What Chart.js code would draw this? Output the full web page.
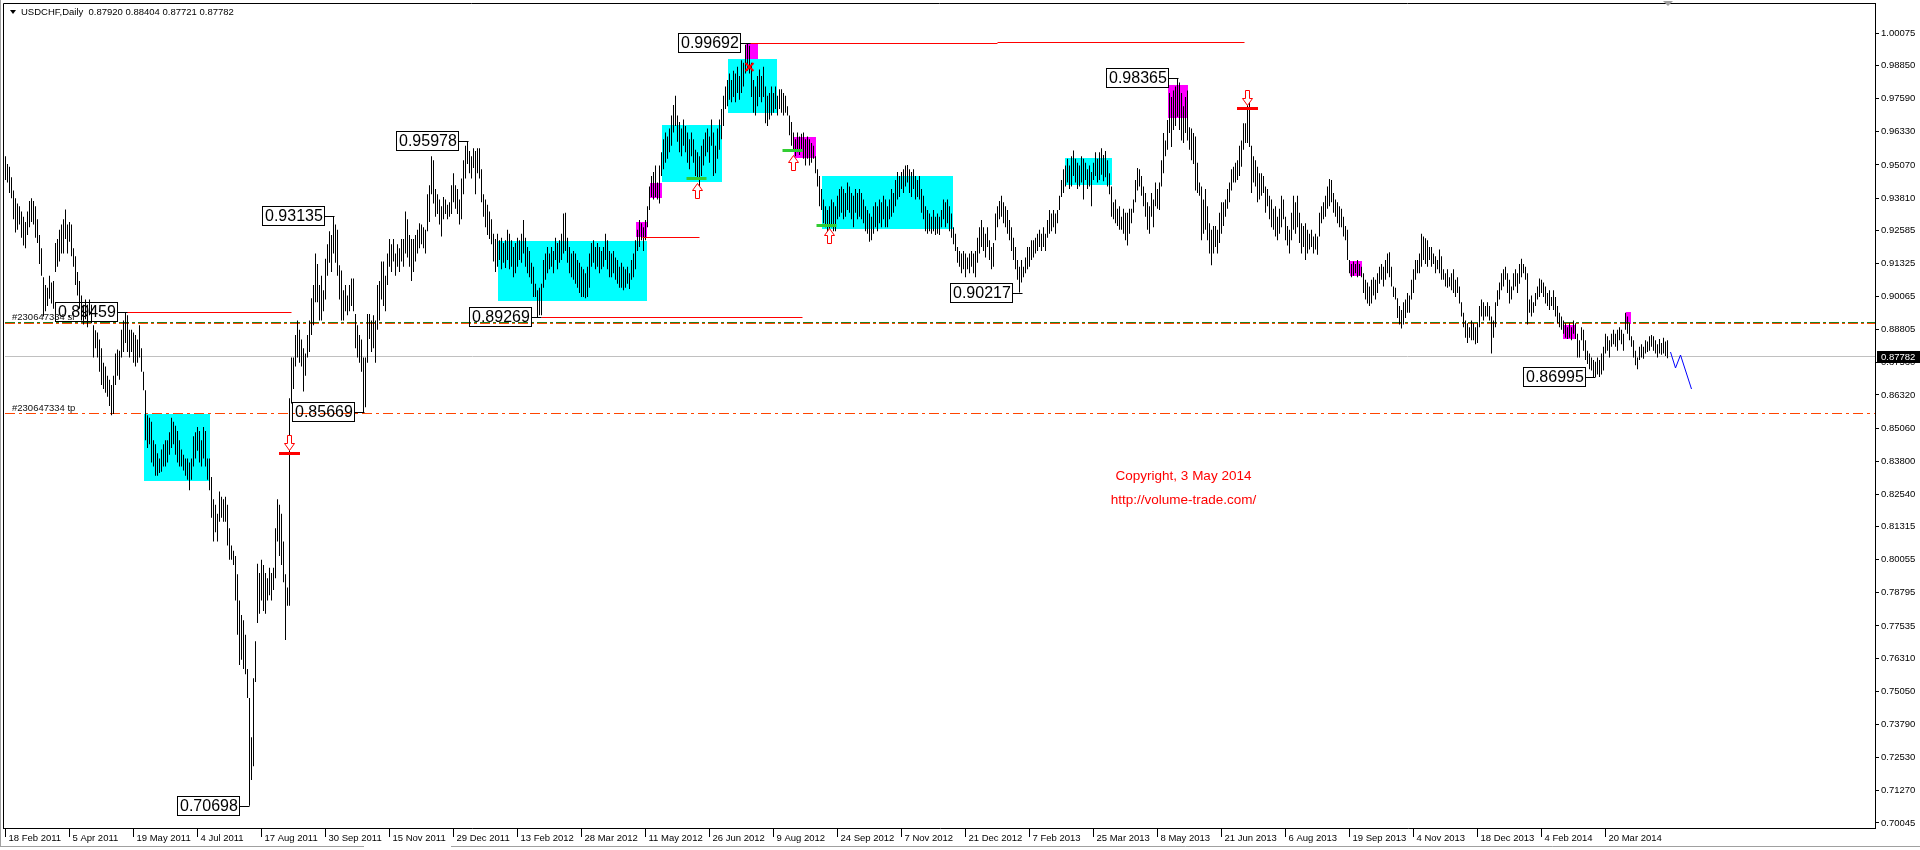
<!DOCTYPE html>
<html><head><meta charset="utf-8">
<script src="https://cdn.jsdelivr.net/npm/chart.js@4.4.1/dist/chart.umd.min.js"></script>
<style>html,body{margin:0;padding:0;background:#fff;overflow:hidden}canvas{display:block}</style>
</head><body>
<canvas id="c" width="1920" height="850"></canvas>
<script>
// ---------- DATA (daily high / low, in 1/10000 CHF) ----------
const symbolTitle = 'USDCHF,Daily';
const lastOHLC = ['0.87920', '0.88404', '0.87721', '0.87782'];
const lastClose = 0.87782;

const dateLabels = ['18 Feb 2011','5 Apr 2011','19 May 2011','4 Jul 2011','17 Aug 2011','30 Sep 2011','15 Nov 2011','29 Dec 2011','13 Feb 2012','28 Mar 2012','11 May 2012','26 Jun 2012','9 Aug 2012','24 Sep 2012','7 Nov 2012','21 Dec 2012','7 Feb 2013','25 Mar 2013','8 May 2013','21 Jun 2013','6 Aug 2013','19 Sep 2013','4 Nov 2013','18 Dec 2013','4 Feb 2014','20 Mar 2014'];
const barsPerDateLabel = 32;

const yTickValues = [1.00075,0.98850,0.97590,0.96330,0.95070,0.93810,0.92585,0.91325,0.90065,0.88805,0.87560,0.86320,0.85060,0.83800,0.82540,0.81315,0.80055,0.78795,0.77535,0.76310,0.75050,0.73790,0.72530,0.71270,0.70045];

const highs2011 = [
9540,9510,9500,9460,9410,9380,9360,9350,9330,9310,
9290,9330,9370,9380,9370,9350,9300,9240,9190,9080,
9050,9040,9085,9060,9065,9210,9225,9260,9280,9300,
9337,9280,9290,9280,9190,9160,9100,9065,9010,8975,
8995,8975,8995,8975,8897,8878,8870,8843,8810,8755,
8740,8705,8690,8670,8705,8790,8805,8800,8880,8915,
8946,8935,8880,8880,8870,8860,8843,8897,8810,8720,
8650,8555,8545,8530,8460,8445,8410,8390,8425,8445,
8460,8460,8490,8545,8530,8515,8495,8460,8425,8405,
8390,8390,8375,8390,8475,8490,8510,8495,8460,8510,
8495,8390,8390,8320,8235,8215,8180,8265,8245,8235,
8245,8215,8125,8060,8040,8020,7950,7850,7795,7775,
7720,7590,7480,7330,7555,7695,7990,7955,8005,7985,
7955,7935,7975,7955,7975,8125,8235,8215,8180,8075,
7950,7900,8620,8775,8775,8860,8915,8880,8843,8810,
8790,8860,8915,9000,9050,9170,9130,9050,9085,9030,
9150,9205,9255,9240,9313,9280,9260,9125,9105,9030,
9050,9010,9050,9075,9075,8940,8897,8860,8843,8775,
8775,8940,8940,8915,8935,8915,9050,9065,9140,9140,
9085,9170,9225,9205,9225,9170,9205,9190,9225,9225,
9330,9300,9240,9225,9225,9240,9260,9285,9280,9270,
9260,9395,9430,9540,9525,9415,9395,9375,9350,9385,
9375,9355,9365,9430,9475,9430];
const lows2011 = [
9450,9440,9400,9380,9300,9250,9260,9280,9230,9200,
9190,9240,9270,9290,9280,9230,9210,9130,9085,8930,
8950,8970,8998,8980,8960,9100,9120,9140,9170,9170,
9225,9170,9215,9160,9120,9050,9010,8960,8915,8900,
8920,8890,8935,8905,8775,8810,8775,8720,8670,8655,
8640,8625,8590,8555,8560,8670,8705,8690,8775,8795,
8830,8795,8775,8795,8755,8740,8755,8775,8720,8650,
8460,8430,8445,8375,8360,8325,8325,8335,8340,8360,
8360,8375,8405,8430,8445,8405,8375,8360,8360,8345,
8325,8310,8270,8310,8360,8390,8420,8375,8360,8390,
8360,8310,8270,8165,8075,8110,8075,8150,8165,8150,
8150,8060,8005,8005,7985,7850,7720,7605,7625,7590,
7570,7480,7070,7168,7220,7540,7765,7800,7850,7810,
7800,7850,7870,7850,7890,7935,8075,8020,7985,7920,
7700,7830,7830,8600,8655,8740,8775,8755,8740,8645,
8705,8775,8795,8860,8897,8985,8985,8915,8915,8950,
8995,9085,9135,9100,9170,9135,9085,8995,8915,8915,
8950,8935,8950,8970,8950,8810,8775,8755,8720,8567,
8585,8755,8845,8795,8810,8755,8880,8915,8995,8970,
8950,9050,9120,9100,9140,9085,9120,9100,9140,9120,
9170,9155,9120,9065,9100,9140,9170,9190,9205,9190,
9170,9255,9290,9395,9360,9310,9320,9280,9235,9300,
9320,9300,9310,9320,9365,9340];

const highs2012 = [
9415,9375,9455,9525,9580,9598,9560,9540,9570,9560,
9570,9570,9490,9395,9375,9355,9330,9300,9245,9225,
9245,9220,9230,9210,9220,9260,9245,9220,9195,9210,
9230,9220,9245,9297,9230,9195,9180,9135,9120,9055,
9030,9040,9055,9145,9170,9195,9170,9195,9180,9230,
9210,9220,9245,9322,9325,9230,9195,9170,9180,9170,
9145,9135,9120,9110,9095,9120,9170,9210,9220,9195,
9210,9195,9180,9195,
9245,9220,9180,9170,9180,9155,9145,9120,9135,9120,
9110,9120,9095,9145,9170,9220,9260,9297,9285,9270,
9297,9350,9425,9465,9480,9505,9440,9505,9555,9605,
9630,9615,9645,9695,9735,9770,9695,9670,9645,9680,
9655,9630,9605,9630,
9605,9565,9555,9540,9580,9605,9630,9645,9615,9680,
9630,9580,9645,9680,9720,9770,9805,9830,9855,9830,
9865,9855,9880,9845,9905,9895,9964,9969,9960,9895,
9830,9805,9845,9870,9845,9880,9805,9770,9780,9805,
9780,9805,9770,9795,9795,9780,9770,9730,9695,9670,
9630,9605,9630,9615,9625,9630,9605,9615,9605,9590,
9580,9540,9490,9465,9415,9375,9350,9335,9350,9375,
9365,9350,9390,9415,9425,9415,9400,9440,9425,9400,
9390,9415,9400,9415,
9400,9375,9350,9335,9322,9310,9350,9365,9350,9375,
9365,9390,9375,9350,9375,9415,9400,9450,9480,9465,
9480,9490,9505,9507,9490,9480,9490,9465,9450,9465,
9415,9390,9350,9335,9322,9310,9335,9310,9322,9310,
9335,9375,9365,9375,9350,9322,9270,9245,9195,9180,
9170,9180,9170,9155,9170,9180];
const lows2012 = [
9320,9280,9300,9395,9455,9510,9475,9455,9495,9395,
9475,9455,9365,9310,9270,9240,9225,9205,9140,9100,
9120,9145,9110,9135,9115,9145,9110,9120,9080,9095,
9120,9145,9135,9170,9120,9095,9080,9055,9005,9005,
8927,8935,8935,9040,9070,9095,9110,9120,9095,9145,
9110,9135,9145,9170,9180,9135,9095,9080,9070,9055,
9040,9020,9005,9005,9000,9005,9040,9120,9135,9110,
9120,9095,9110,9120,
9145,9110,9080,9080,9095,9070,9055,9040,9040,9030,
9040,9055,9035,9070,9080,9110,9180,9195,9220,9180,
9220,9270,9335,9385,9375,9385,9375,9360,9465,9490,
9515,9530,9555,9580,9630,9655,9595,9555,9540,9580,
9555,9515,9490,9540,
9515,9465,9450,9425,9465,9505,9540,9555,9515,9580,
9465,9475,9530,9565,9605,9655,9720,9730,9755,9745,
9765,9745,9780,9755,9780,9805,9855,9865,9855,9765,
9705,9695,9730,9765,9745,9765,9665,9655,9680,9695,
9705,9720,9695,9720,9705,9695,9705,9695,9620,9580,
9565,9540,9555,9545,9565,9530,9505,9530,9505,9515,
9530,9475,9425,9350,9335,9285,9270,9245,9230,9270,
9255,9255,9300,9310,9325,9300,9310,9335,9325,9300,
9270,9325,9300,9310,
9300,9285,9255,9245,9215,9220,9245,9270,9255,9285,
9270,9300,9270,9270,9300,9310,9325,9350,9375,9385,
9415,9400,9425,9440,9400,9385,9415,9375,9385,9375,
9325,9300,9255,9245,9255,9245,9255,9240,9245,9240,
9270,9300,9270,9285,9255,9230,9205,9180,9135,9120,
9095,9110,9080,9110,9095,9120];

const highs2013 = [
9170,9180,9230,9270,9297,9270,9245,9270,9220,9195,
9210,9322,9350,9370,9390,9365,9350,9335,
9297,9270,9230,9195,9145,9120,9145,9120,9155,9195,
9195,9220,9220,9230,9245,9260,9245,9270,9245,9297,
9335,9322,9335,9322,9335,9390,9450,9490,9505,9530,
9505,9540,9562,9530,9515,9505,9540,9530,9515,9490,
9505,9480,9515,9555,9530,
9555,9570,9545,9560,
9525,9475,9425,9365,9375,9340,9350,9310,9340,9325,
9325,9340,9340,9375,9450,9495,9490,9465,9425,9400,
9365,9350,9400,9375,9440,9415,9440,9525,9628,9600,
9678,9780,9765,9790,9805,9836,9820,9780,9730,9765,
9790,9650,9645,9628,9615,9515,9440,9425,9375,9415,
9350,9285,9260,9275,9275,9260,9325,9365,9365,9375,
9415,9440,9490,9500,9515,9525,9580,9600,9665,9665,
9750,9745,9580,9540,9525,9500,9475,9475,9465,9425,
9415,9390,9375,9340,9350,9310,9340,9390,9375,
9310,9275,9260,9325,9390,9365,9390,9325,9285,9275,
9285,9260,9245,9260,9235,9245,9235,9325,9350,9365,
9390,9425,9453,9450,9400,9375,9365,9350,9340,9310,
9275,9260,9145,9130,9140,9130,9145,9130,9120,9095,
9070,9060,9045,9070,9080,9070,9095,9120,9130,9120,
9145,9170,9175,9120,9045,9040,9000,8970,8955,8985,
8995,9020,9010,9070,9110,9145,9145,9170,9245,9235,
9228,9220,9195,9195,9170,9160,9145,9185,9160,
9110,9095,9110,9080,9095,9110,9070,9080,9045,8985,
8945,8915,8905,8890,8915,8905,8890,8905,8970,8995,
8985,8970,8985,8970,8930,8915,8985];
const lows2013 = [
9095,9080,9135,9170,9195,9180,9155,9195,9145,9110,
9120,9220,9270,9300,9310,9285,9270,9245,
9220,9180,9145,9110,9070,9022,9060,9080,9095,9110,
9120,9145,9155,9170,9180,9195,9180,9195,9180,9230,
9245,9255,9270,9245,9285,9335,9385,9400,9425,9440,
9415,9425,9465,9440,9415,9425,9440,9375,9450,9415,
9425,9350,9450,9465,9440,
9450,9470,9445,9460,
9425,9395,9310,9300,9285,9275,9260,9260,9245,9220,
9200,9245,9285,9325,9365,9410,9425,9390,9350,9310,
9260,9245,9310,9270,9350,9340,9335,9425,9475,9540,
9565,9628,9575,9640,9655,9690,9640,9600,9590,9628,
9600,9565,9525,9510,9410,9400,9390,9220,9245,9260,
9220,9170,9125,9170,9195,9170,9210,9245,9275,9310,
9340,9365,9410,9440,9440,9450,9465,9500,9565,9590,
9590,9575,9400,9440,9425,9365,9375,9390,9400,9325,
9350,9300,9270,9260,9235,9220,9245,9270,9300,
9220,9200,9170,9220,9260,9245,9270,9210,9170,9195,
9145,9170,9185,9195,9170,9185,9165,9235,9285,9300,
9310,9340,9350,9365,9325,9310,9285,9270,9270,9235,
9220,9145,9095,9080,9085,9095,9080,9085,9080,9020,
8995,8980,8970,8980,9010,8995,9020,9055,9070,9045,
9070,9095,9080,9045,9005,8995,8925,8900,8885,8900,
8925,8945,8945,8995,9020,9070,9095,9095,9120,9145,
9130,9120,9145,9120,9130,9095,9110,9095,9070,
9070,9045,9040,9045,9030,9020,9005,9020,8980,8930,
8890,8850,8830,8850,8840,8840,8825,8830,8890,8930,
8915,8930,8930,8915,8790,8850,8890];

const highs2014 = [
9030,9060,9095,9110,9120,9095,9070,9045,9095,9110,
9095,9130,9150,9130,9120,9095,8995,9010,8985,9020,
9045,9075,9070,9060,9045,9020,9030,9005,9030,9005,
8970,8945,8930,8915,8905,8890,8905,8890,8915,8905,
8865,8840,
8890,8880,8840,8800,8790,8775,8765,8758,8775,8765,
8790,8815,8865,8855,8840,8865,8880,8865,8880,8890,
8880,8865,8945,8930,8905,8855,8840,8800,8775,8815,
8825,8815,8840,8835,8855,8860,8855,8840,8825,8845,8830,
8850,8835,8840];
const lows2014 = [
8970,8995,9030,9045,9070,9020,8980,8995,9030,9045,
9020,9055,9080,9095,9070,8900,8945,8930,8945,8970,
8995,9005,9020,9005,8980,8970,8955,8970,8955,8930,
8905,8890,8880,8865,8850,8845,8850,8840,8865,8845,
8775,8775,
8840,8800,8765,8750,8730,8725,8700,8700,8710,8700,
8710,8725,8790,8800,8775,8815,8825,8815,8800,8840,
8825,8800,8880,8865,8840,8815,8775,8745,8730,8765,
8775,8770,8790,8795,8800,8815,8800,8790,8775,8790,8785,
8790,8780,8772];

// ---------- chart objects (bar index / price) ----------
const cyanZones = [ // [fromBar, toBar, lowPrice, highPrice]
  [69, 102, 0.83048, 0.85596],
  [246, 320.5, 0.89894, 0.92176],
  [328, 358, 0.94420, 0.96588],
  [361, 385.5, 0.97044, 0.99098],
  [408, 473.5, 0.92632, 0.94648],
  [529.5, 553, 0.94306, 0.95333]
];
const magentaZones = [
  [315, 320.5, 0.92328, 0.92899],
  [322, 328, 0.93811, 0.94382],
  [370, 376, 0.99098, 0.99706],
  [394, 405, 0.95333, 0.96131],
  [581, 591, 0.96854, 0.98109],
  [672, 678, 0.90845, 0.91415],
  [778.5, 785, 0.88449, 0.88981],
  [810, 812.5, 0.89019, 0.89475]
];
const extremeLabels = [ // [price, bar]
  [0.89459, 60.5], [0.70698, 122], [0.93135, 164], [0.85669, 179], [0.95978, 231],
  [0.89269, 267.5], [0.99692, 372], [0.90217, 508], [0.98365, 586], [0.86995, 794.5]
];
const redLevels = [ // [fromBar, toBar, price]
  [60.5, 143, 0.89459], [268, 398.5, 0.89269], [318.5, 347, 0.92290],
  [372, 496, 0.99692], [496, 619.5, 0.99733]
];
const greenMarks = [[340.5, 350.5, 0.94534], [388.5, 398.5, 0.95599], [405.5, 415.5, 0.92784]];
const buyArrows = [[345.5, 0.94382], [393.5, 0.95447], [411.5, 0.92670]];
const sellMarks = [[141.5, 0.84113], [620.5, 0.97234]];
const closeCross = [372, 0.98793];
const projection = [[832.5, 0.87954], [835, 0.87346], [837.5, 0.87840], [843, 0.86547]];
const orderSL = 0.89031, orderSLGreen = 0.89069, orderTP = 0.85612;
const orderName = '#230647334';
const copyrightText = ['Copyright, 3 May 2014', 'http://volume-trade.com/'];
const copyrightAnchor = [[589, 0.83238], [589, 0.82326]];

// ---------- build ----------
const toPrice = v => v / 10000;
const highs = [...highs2011, ...highs2012, ...highs2013, ...highs2014].map(toPrice);
const lows = [...lows2011, ...lows2012, ...lows2013, ...lows2014].map(toPrice);
const bars = highs.map((h, i) => ({ x: i, y: [lows[i], h] }));

const FONT = '"Liberation Sans", Arial, sans-serif';

function hline(ctx, x1, x2, y, color, w, dash) {
  ctx.save();
  ctx.strokeStyle = color; ctx.lineWidth = w; ctx.setLineDash(dash || []);
  const yy = w % 2 ? Math.round(y - 0.5) + 0.5 : Math.round(y);
  ctx.beginPath(); ctx.moveTo(x1, yy); ctx.lineTo(x2, yy); ctx.stroke();
  ctx.restore();
}

const overlay = {
  id: 'mt4overlay',
  beforeDatasetsDraw(chart) {
    const { ctx, chartArea: a, scales: { x, y } } = chart;
    ctx.save();
    ctx.beginPath(); ctx.rect(a.left, a.top, a.right - a.left, a.bottom - a.top); ctx.clip();
    ctx.fillStyle = '#00FFFF';
    cyanZones.forEach(([b0, b1, lo, hi]) => {
      const x0 = Math.round(x.getPixelForValue(b0)), x1 = Math.round(x.getPixelForValue(b1));
      const y0 = Math.round(y.getPixelForValue(hi)), y1 = Math.round(y.getPixelForValue(lo));
      ctx.fillRect(x0, y0, x1 - x0, y1 - y0);
    });
    ctx.fillStyle = '#FF00FF';
    magentaZones.forEach(([b0, b1, lo, hi]) => {
      const x0 = Math.round(x.getPixelForValue(b0)), x1 = Math.round(x.getPixelForValue(b1));
      const y0 = Math.round(y.getPixelForValue(hi)), y1 = Math.round(y.getPixelForValue(lo));
      ctx.fillRect(x0, y0, x1 - x0, y1 - y0);
    });
    hline(ctx, a.left, a.right, y.getPixelForValue(lastClose), '#C0C0C0', 1);
    hline(ctx, a.left, a.right, y.getPixelForValue(orderSLGreen), '#1F7F1F', 1, [10, 3, 3, 3]);
    hline(ctx, a.left, a.right, y.getPixelForValue(orderSL), '#FF4500', 1, [10, 3, 3, 3]);
    hline(ctx, a.left, a.right, y.getPixelForValue(orderTP), '#FF4500', 1, [10, 4, 3, 4]);
    ctx.restore();
  },
  afterDatasetsDraw(chart) {
    const { ctx, chartArea: a, scales: { x, y } } = chart;
    ctx.save();
    ctx.beginPath(); ctx.rect(a.left, a.top, a.right - a.left, a.bottom - a.top); ctx.clip();
    redLevels.forEach(([b0, b1, p]) => hline(ctx, x.getPixelForValue(b0), x.getPixelForValue(b1), y.getPixelForValue(p), '#FF0000', 1));
    greenMarks.forEach(([b0, b1, p]) => hline(ctx, x.getPixelForValue(b0), x.getPixelForValue(b1), y.getPixelForValue(p), '#32CD32', 3));
    ctx.lineWidth = 1; ctx.strokeStyle = '#FF0000'; ctx.fillStyle = '#FFFFFF';
    buyArrows.forEach(([b, p]) => {
      const cx = Math.round(x.getPixelForValue(b)) + 0.5, t = Math.round(y.getPixelForValue(p)) + 0.5;
      ctx.beginPath();
      ctx.moveTo(cx, t); ctx.lineTo(cx + 5, t + 7); ctx.lineTo(cx + 2, t + 7); ctx.lineTo(cx + 2, t + 15);
      ctx.lineTo(cx - 2, t + 15); ctx.lineTo(cx - 2, t + 7); ctx.lineTo(cx - 5, t + 7); ctx.closePath();
      ctx.fill(); ctx.stroke();
    });
    sellMarks.forEach(([b, p]) => {
      const cx = Math.round(x.getPixelForValue(b)) + 0.5, yb = Math.round(y.getPixelForValue(p));
      const t = yb - 2.5;
      ctx.beginPath();
      ctx.moveTo(cx, t); ctx.lineTo(cx + 5, t - 7); ctx.lineTo(cx + 2, t - 7); ctx.lineTo(cx + 2, t - 15);
      ctx.lineTo(cx - 2, t - 15); ctx.lineTo(cx - 2, t - 7); ctx.lineTo(cx - 5, t - 7); ctx.closePath();
      ctx.fillStyle = '#FFFFFF'; ctx.fill(); ctx.stroke();
      ctx.fillStyle = '#FF0000'; ctx.fillRect(cx - 10.5, yb - 1, 21, 3);
    });
    {
      const cx = x.getPixelForValue(closeCross[0]), cy = y.getPixelForValue(closeCross[1]);
      ctx.lineWidth = 2; ctx.beginPath();
      ctx.moveTo(cx - 4, cy - 4); ctx.lineTo(cx + 4, cy + 4); ctx.moveTo(cx + 4, cy - 4); ctx.lineTo(cx - 4, cy + 4);
      ctx.stroke();
    }
    ctx.lineWidth = 1; ctx.strokeStyle = '#0000FF'; ctx.beginPath();
    projection.forEach(([b, p], k) => { const px = x.getPixelForValue(b), py = y.getPixelForValue(p); k ? ctx.lineTo(px, py) : ctx.moveTo(px, py); });
    ctx.stroke();
    ctx.font = '16px ' + FONT; ctx.textBaseline = 'middle'; ctx.textAlign = 'left';
    extremeLabels.forEach(([p, b]) => {
      const bx = Math.round(x.getPixelForValue(b)), py = Math.round(y.getPixelForValue(p));
      const right = bx - 10, w = 62, h = 19;
      ctx.strokeStyle = '#000'; ctx.lineWidth = 1;
      ctx.strokeRect(right - w + 0.5, py - 9.5, w, h);
      ctx.beginPath(); ctx.moveTo(right + 0.5, py + 0.5); ctx.lineTo(bx + 0.5, py + 0.5); ctx.stroke();
      ctx.fillStyle = '#000'; ctx.fillText(p.toFixed(5), right - w + 3, py + 1);
    });
    ctx.font = '9.5px ' + FONT; ctx.textBaseline = 'bottom'; ctx.fillStyle = '#101010';
    ctx.fillText(orderName + ' sl', a.left + 7, Math.round(y.getPixelForValue(orderSLGreen)) - 1);
    ctx.fillText(orderName + ' tp', a.left + 7, Math.round(y.getPixelForValue(orderTP)) - 1);
    ctx.font = '13.5px ' + FONT; ctx.textAlign = 'center'; ctx.textBaseline = 'middle'; ctx.fillStyle = '#FF0000';
    copyrightText.forEach((t, k) => ctx.fillText(t, x.getPixelForValue(copyrightAnchor[k][0]), y.getPixelForValue(copyrightAnchor[k][1])));
    ctx.restore();
  },
  afterDraw(chart) {
    const { ctx, chartArea: a, scales: { y } } = chart;
    ctx.save();
    ctx.strokeStyle = '#000'; ctx.lineWidth = 1; ctx.beginPath();
    ctx.moveTo(3.5, a.bottom + 0.5); ctx.lineTo(3.5, 3.5); ctx.lineTo(a.right + 0.5, 3.5);
    ctx.moveTo(3, a.bottom + 0.5); ctx.lineTo(a.left + 1, a.bottom + 0.5);
    ctx.stroke();
    ctx.strokeStyle = '#A0A0A0'; ctx.beginPath();
    ctx.moveTo(0, 846.5); ctx.lineTo(364, 846.5); ctx.moveTo(451, 846.5); ctx.lineTo(1920, 846.5);
    ctx.moveTo(0.5, 0); ctx.lineTo(0.5, 846);
    ctx.stroke();
    ctx.fillStyle = '#000';
    ctx.beginPath(); ctx.moveTo(10, 10); ctx.lineTo(16, 10); ctx.lineTo(13, 14); ctx.closePath(); ctx.fill();
    ctx.font = '9.5px ' + FONT; ctx.textBaseline = 'middle'; ctx.textAlign = 'left';
    ctx.fillText(symbolTitle + '  ' + lastOHLC.join(' '), 21, 12);
    ctx.fillStyle = '#A0A0A0'; ctx.beginPath(); ctx.moveTo(1663, 1); ctx.lineTo(1673, 1); ctx.lineTo(1668, 6); ctx.closePath(); ctx.fill();
    const cy = Math.round(y.getPixelForValue(lastClose));
    ctx.fillStyle = '#000'; ctx.fillRect(a.right + 2, cy - 6, 1920 - a.right - 2, 12);
    ctx.fillStyle = '#FFF'; ctx.fillText(lastClose.toFixed(5), a.right + 6, cy + 0.5);
    ctx.restore();
  }
};

new Chart(document.getElementById('c'), {
  type: 'bar',
  data: { datasets: [{ data: bars, backgroundColor: '#000', borderWidth: 0, barThickness: 1, inflateAmount: 0, grouped: false }] },
  options: {
    responsive: false, animation: false, devicePixelRatio: 1, events: [],
    layout: { padding: { left: 5, top: 3, right: 0, bottom: 0 } },
    plugins: { legend: { display: false }, tooltip: { enabled: false } },
    scales: {
      x: {
        type: 'linear', min: -0.25, max: 934.75, offset: false,
        afterBuildTicks: s => { s.ticks = dateLabels.map((_, k) => ({ value: k * barsPerDateLabel })); },
        afterFit: s => { s.height = 22; s.paddingLeft = 0; s.paddingRight = 0; },
        grid: { drawOnChartArea: false, drawTicks: true, tickLength: 9, color: '#000', offset: false },
        border: { display: true, color: '#000', width: 1 },
        ticks: { autoSkip: false, maxRotation: 0, minRotation: 0, align: 'start', labelOffset: 3, padding: -4, color: '#000',
          font: { family: FONT, size: 9.5 }, callback: v => dateLabels[Math.round(v / barsPerDateLabel)] ?? '' }
      },
      y: {
        type: 'linear', position: 'right', min: 0.69852, max: 1.01227,
        afterBuildTicks: s => { s.ticks = yTickValues.map(v => ({ value: v })); },
        afterFit: s => { s.width = 45; s.paddingTop = 0; s.paddingBottom = 0; },
        grid: { drawOnChartArea: false, drawTicks: true, tickLength: 4, color: '#000' },
        border: { display: true, color: '#000', width: 1 },
        ticks: { autoSkip: false, padding: 2, color: '#000', font: { family: FONT, size: 9.5 }, callback: v => v.toFixed(5) }
      }
    }
  },
  plugins: [overlay]
});
</script>
</body></html>
